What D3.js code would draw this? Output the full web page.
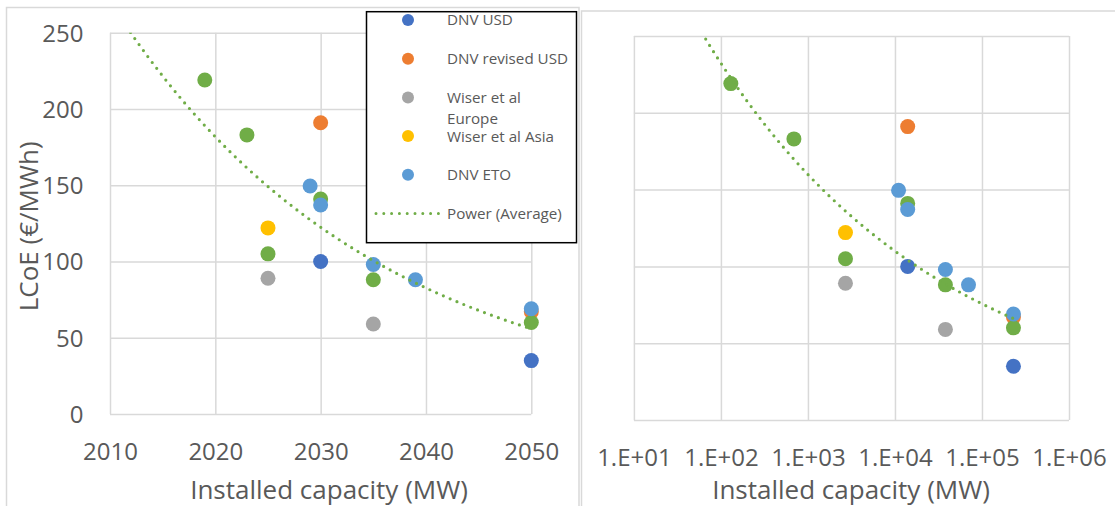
<!DOCTYPE html>
<html>
<head>
<meta charset="utf-8">
<script src="https://cdn.jsdelivr.net/npm/d3@7"></script>
<style>
  body { margin: 0; background: #fff; }
  svg { display: block; }
</style>
</head>
<body>
<svg id="chart" width="1115" height="506"></svg>
<script>
// ---- data ----
const years       = [2019, 2023, 2025, 2029, 2030, 2035, 2039, 2050];
const capacityMW  = [130, 690, 2700, 11000, 14000, 38000, 70000, 230000];

const dnvUsd        = [null, null, null, null, 100, null, null, 35];
const dnvRevisedUsd = [null, null, null, null, 191, null, null, 67];
const wiserEurope   = [null, null, 89, null, null, 59, null, null];
const wiserAsia     = [null, null, 122, null, null, null, null, null];
const dnvEto        = [null, null, null, 149.5, 137, 98, 88, 69];
const average       = [219, 183, 105, null, 141, 88, null, 60];

const lcoeTicks          = [0, 50, 100, 150, 200, 250];
const yearTicks          = [2010, 2020, 2030, 2040, 2050];
const yearTickLabels     = ["2010", "2020", "2030", "2040", "2050"];
const capacityTicks      = [1e1, 1e2, 1e3, 1e4, 1e5, 1e6];
const capacityTickLabels = ["1.E+01", "1.E+02", "1.E+03", "1.E+04", "1.E+05", "1.E+06"];

const yTitle = "LCoE (€/MWh)";
const xTitle = "Installed capacity (MW)";

// ---- styling ----
const FONT = '"Open Sans", "Noto Sans", "DejaVu Sans", sans-serif';
const TEXT = "#595959";
const GRID = "#D9D9D9";
const TREND = "#70AD47";

// series in drawing order (later ones on top)
const series = [
  { name: "DNV USD",            values: dnvUsd,        color: "#4472C4" },
  { name: "DNV revised USD",    values: dnvRevisedUsd, color: "#ED7D31" },
  { name: "Wiser et al Europe", values: wiserEurope,   color: "#A5A5A5" },
  { name: "Wiser et al Asia",   values: wiserAsia,     color: "#FFC000" },
  { name: "Average",            values: average,       color: "#70AD47" },
  { name: "DNV ETO",            values: dnvEto,        color: "#5B9BD5" }
];

const legendEntries = [
  { lines: ["DNV USD"],               color: "#4472C4", type: "dot" },
  { lines: ["DNV revised USD"],       color: "#ED7D31", type: "dot" },
  { lines: ["Wiser et al", "Europe"], color: "#A5A5A5", type: "dot" },
  { lines: ["Wiser et al Asia"],      color: "#FFC000", type: "dot" },
  { lines: ["DNV ETO"],               color: "#5B9BD5", type: "dot" },
  { lines: ["Power (Average)"],       color: TREND,     type: "trend" }
];

const svg = d3.select("#chart");
svg.append("rect").attr("width", 1115).attr("height", 506).attr("fill", "#fff");

// chart frames
svg.append("rect").attr("x", 6.5).attr("y", 7.5).attr("width", 572.5).attr("height", 540)
  .attr("fill", "none").attr("stroke", GRID).attr("stroke-width", 1.5);
svg.append("rect").attr("x", 581.5).attr("y", 11).attr("width", 560).attr("height", 540)
  .attr("fill", "none").attr("stroke", GRID).attr("stroke-width", 1.5);

// least-squares fit of ln(y) = ln(a) + b ln(x)
function powerFit(xs, ys) {
  const pts = xs.map((x, i) => [x, ys[i]]).filter(p => p[1] != null);
  const lx = pts.map(p => Math.log(p[0])), ly = pts.map(p => Math.log(p[1]));
  const mx = d3.mean(lx), my = d3.mean(ly);
  const b = d3.sum(lx, (v, i) => (v - mx) * (ly[i] - my)) / d3.sum(lx, v => (v - mx) ** 2);
  const a = Math.exp(my - b * mx);
  return x => a * Math.pow(x, b);
}

function panel(cfg, id) {
  const { x, y, xs, xTicks, xLabels } = cfg;
  const [x0, x1] = x.range();
  const [yb, yt] = y.range();
  const g = svg.append("g");

  // vertical gridlines
  g.append("g").attr("transform", `translate(0,${yb})`)
    .call(d3.axisBottom(x).tickValues(xTicks).tickSize(-(yb - yt)).tickFormat(""))
    .call(s => s.select(".domain").remove())
    .selectAll("line").attr("stroke", GRID).attr("stroke-width", 1.5);
  // horizontal gridlines
  g.append("g").attr("transform", `translate(${x0},0)`)
    .call(d3.axisLeft(y).tickValues(lcoeTicks).tickSize(-(x1 - x0)).tickFormat(""))
    .call(s => s.select(".domain").remove())
    .selectAll("line").attr("stroke", GRID).attr("stroke-width", 1.5);

  // x tick labels
  const labelOf = new Map(xTicks.map((t, i) => [t, xLabels[i]]));
  g.append("g").attr("transform", `translate(0,${yb})`)
    .call(d3.axisBottom(x).tickValues(xTicks).tickSize(0).tickFormat(d => labelOf.get(d)))
    .call(s => s.select(".domain").remove())
    .selectAll("text")
    .attr("y", 45.5).attr("dy", null)
    .attr("font-family", FONT).attr("font-size", 24).attr("fill", TEXT);

  // y tick labels
  if (cfg.showY) {
    g.append("g").attr("transform", `translate(${x0},0)`)
      .call(d3.axisLeft(y).tickValues(lcoeTicks).tickSize(0).tickPadding(26.5))
      .call(s => s.select(".domain").remove())
      .selectAll("text")
      .attr("dy", null).attr("y", 8.5)
      .attr("font-family", FONT).attr("font-size", 24).attr("fill", TEXT);
    g.append("text")
      .attr("transform", `translate(${cfg.yTitleX},${(yb + yt) / 2 + 3}) rotate(-90)`)
      .attr("text-anchor", "middle").attr("dy", "0.36em")
      .attr("font-family", FONT).attr("font-size", 26).attr("fill", TEXT)
      .text(yTitle);
  }

  // x axis title
  g.append("text")
    .attr("x", cfg.titleX).attr("y", cfg.titleY)
    .attr("text-anchor", "middle")
    .attr("font-family", FONT).attr("font-size", 26).attr("fill", TEXT)
    .text(xTitle);

  // points
  series.forEach(s => {
    const pts = xs.map((xv, i) => ({ xv, v: s.values[i] })).filter(d => d.v != null);
    g.append("g").selectAll("circle").data(pts).join("circle")
      .attr("cx", d => x(d.xv)).attr("cy", d => y(d.v)).attr("r", 7.5)
      .attr("fill", s.color);
  });

  // power trendline of the average series, clipped to the plot area
  const fit = powerFit(xs, average);
  const lastX = d3.max(xs.filter((xv, i) => average[i] != null));
  const firstX = x.domain()[0];
  const n = 300;
  const samples = d3.range(n + 1).map(k => {
    const t = k / n;
    const xv = cfg.log
      ? Math.exp(Math.log(firstX) + t * (Math.log(lastX) - Math.log(firstX)))
      : firstX + t * (lastX - firstX);
    return [xv, fit(xv)];
  });
  svg.append("clipPath").attr("id", id)
    .append("rect").attr("x", x0).attr("y", yt).attr("width", x1 - x0).attr("height", yb - yt);
  g.append("path")
    .attr("clip-path", `url(#${id})`)
    .attr("d", d3.line().x(d => x(d[0])).y(d => y(d[1]))(samples))
    .attr("fill", "none").attr("stroke", TREND).attr("stroke-width", 3.2)
    .attr("stroke-linecap", "round").attr("stroke-dasharray", "0 7.4");
}

panel({
  x: d3.scaleLinear().domain([2010, 2050]).range([110, 531.3]),
  y: d3.scaleLinear().domain([0, 250]).range([414, 32.7]),
  xs: years, xTicks: yearTicks, xLabels: yearTickLabels,
  showY: true, yTitleX: 29, titleX: 329, titleY: 498.5, log: false
}, "clip-left");

panel({
  x: d3.scaleLog().domain([1e1, 1e6]).range([633.9, 1069]),
  y: d3.scaleLinear().domain([0, 250]).range([420, 36]),
  xs: capacityMW, xTicks: capacityTicks, xLabels: capacityTickLabels,
  showY: false, titleX: 851, titleY: 498.5, log: true
}, "clip-right");

// legend
const lg = svg.append("g");
lg.append("rect").attr("x", 366.5).attr("y", 11.7).attr("width", 210).attr("height", 231)
  .attr("fill", "#fff").attr("stroke", "#000").attr("stroke-width", 1.5);
const legendY0 = 20, legendStep = 38.7, lineGap = 21.5;
legendEntries.forEach((e, i) => {
  const cy = legendY0 + i * legendStep;
  if (e.type === "dot") {
    lg.append("circle").attr("cx", 408).attr("cy", cy).attr("r", 6).attr("fill", e.color);
  } else {
    lg.append("line").attr("x1", 376).attr("x2", 438.5).attr("y1", cy).attr("y2", cy)
      .attr("stroke", e.color).attr("stroke-width", 3).attr("stroke-linecap", "round")
      .attr("stroke-dasharray", "0 7.8");
  }
  e.lines.forEach((t, j) => {
    lg.append("text").attr("x", 447).attr("y", cy + j * lineGap + 5.4)
      .attr("font-family", FONT).attr("font-size", 15.2).attr("fill", TEXT)
      .text(t);
  });
});
</script>
</body>
</html>
